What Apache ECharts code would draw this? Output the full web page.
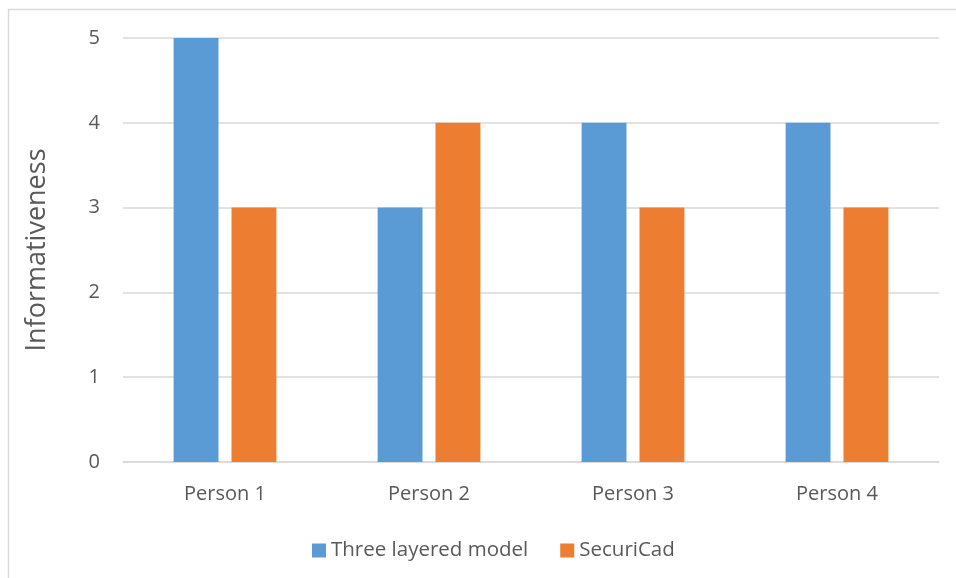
<!DOCTYPE html>
<html>
<head>
<meta charset="utf-8">
<script src="https://cdn.jsdelivr.net/npm/echarts@6/dist/echarts.min.js"></script>
<style>
  html, body { margin: 0; padding: 0; background: #fff; }
  #chart { width: 956px; height: 578px; }
</style>
</head>
<body>
<div id="chart"></div>
<script>
const categories = ['Person 1', 'Person 2', 'Person 3', 'Person 4']
const threeLayered = [5, 3, 4, 4]
const securiCad = [3, 4, 3, 3]
const yTicks = [0, 1, 2, 3, 4, 5]

const chart = echarts.init(document.getElementById('chart'))
const textColor = '#595959'
const font = 'Open Sans, Liberation Sans, sans-serif'

chart.setOption({
  animation: false,
  textStyle: { fontFamily: font },
  graphic: [{
    type: 'rect',
    shape: { x: 8.5, y: 9.5, width: 960, height: 600 },
    style: { fill: 'none', stroke: '#d9d9d9', lineWidth: 1.5 },
    silent: true,
  }],
  legend: {
    left: 307,
    top: 535,
    itemWidth: 14,
    itemHeight: 14,
    itemGap: 32,
    icon: 'rect',
    textStyle: { color: textColor, fontSize: 20.5, fontFamily: font },
    data: ['Three layered model', 'SecuriCad'],
  },
  grid: { left: 123, right: 17, top: 38, bottom: 116 },
  xAxis: {
    type: 'category',
    data: categories,
    axisLine: { lineStyle: { color: '#d9d9d9', width: 1.5 } },
    axisTick: { show: false },
    axisLabel: { color: textColor, fontSize: 20, margin: 22, fontFamily: font },
  },
  yAxis: {
    type: 'value',
    min: yTicks[0],
    max: yTicks[yTicks.length - 1],
    interval: 1,
    name: 'Informativeness',
    nameLocation: 'middle',
    nameGap: 72,
    nameTextStyle: { color: textColor, fontSize: 27, fontFamily: font },
    axisLine: { show: false },
    axisTick: { show: false },
    axisLabel: { color: textColor, fontSize: 20, margin: 23, fontFamily: font },
    splitLine: { lineStyle: { color: '#d9d9d9', width: 1.5 } },
  },
  series: [
    {
      name: 'Three layered model',
      type: 'bar',
      data: threeLayered,
      barWidth: '22%',
      barGap: '29%',
      itemStyle: { color: '#5b9bd5' },
    },
    {
      name: 'SecuriCad',
      type: 'bar',
      data: securiCad,
      barWidth: '22%',
      itemStyle: { color: '#ed7d31' },
    },
  ],
})
</script>
</body>
</html>
